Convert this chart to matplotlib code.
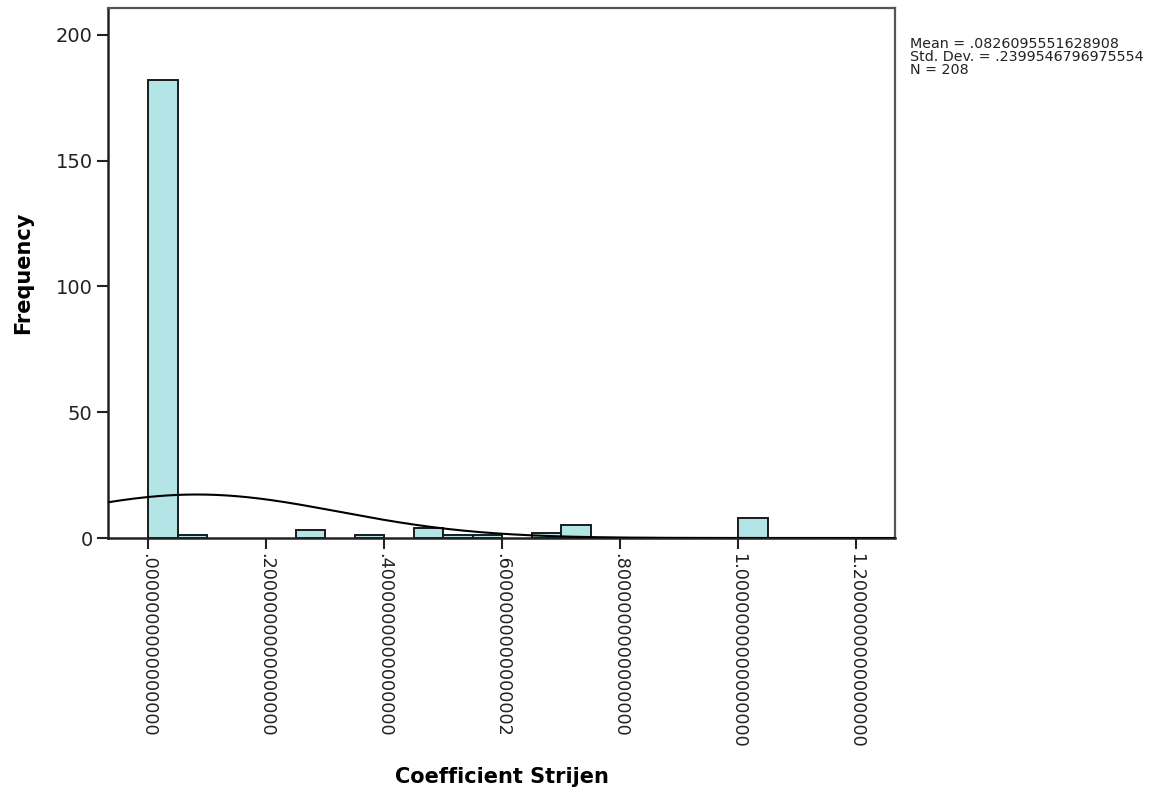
import numpy as np
import matplotlib
matplotlib.use("Agg")
import matplotlib.pyplot as plt

# Histogram of the strip coefficient (bins of width 0.05)
bin_starts = [0.00, 0.05, 0.25, 0.35, 0.45, 0.50, 0.55, 0.65, 0.70, 1.00]
counts = [182, 1, 3, 1, 4, 1, 1, 2, 5, 8]
bin_width = 0.05

mean_val = 0.0826095551628908
std_val = 0.2399546796975554
n_obs = 208

x_ticks = [0.0, 0.2, 0.4, 0.6, 0.8, 1.0, 1.2]
x_tick_labels = [".0000000000000000", ".2000000000000000", ".4000000000000000",
                 ".6000000000000002", ".8000000000000000", "1.0000000000000000",
                 "1.2000000000000000"]
y_ticks = [0, 50, 100, 150, 200]

plt.rcParams["font.family"] = ["DejaVu Sans"]

fig = plt.figure(figsize=(11.75, 7.93), dpi=100)
ax = fig.add_axes([108 / 1175, 255 / 793, 787 / 1175, 530 / 793])

ax.bar(bin_starts, counts, width=bin_width, align="edge",
       color="#b3e4e6", edgecolor="#1a1a1a", linewidth=1.4, zorder=2)

xmin, xmax = -0.068, 1.266
ax.set_xlim(xmin, xmax)
ax.set_ylim(0, 210.7)

# Normal curve scaled to the histogram
xs = np.linspace(xmin, xmax, 400)
ys = n_obs * bin_width / (std_val * np.sqrt(2 * np.pi)) * np.exp(-0.5 * ((xs - mean_val) / std_val) ** 2)
ax.plot(xs, ys, color="black", linewidth=1.5, zorder=3)

ax.set_xticks(x_ticks)
ax.set_xticklabels(x_tick_labels, rotation=270, fontsize=12.7, color="#222222")
ax.set_yticks(y_ticks)
ax.set_yticklabels([str(v) for v in y_ticks], fontsize=14, color="#222222")
ax.tick_params(axis="both", direction="out", length=8, width=1.5, color="#222222", pad=3)

for side in ["left", "bottom"]:
    ax.spines[side].set_color("#222222")
    ax.spines[side].set_linewidth(1.8)
for side in ["top", "right"]:
    ax.spines[side].set_color("#555555")
    ax.spines[side].set_linewidth(1.6)

ax.set_xlabel("Coefficient Strijen", fontsize=15, fontweight="bold", labelpad=14)
ax.set_ylabel("Frequency", fontsize=15, fontweight="bold", labelpad=16)

fig.text(910 / 1175, 1 - 37 / 793,
         "Mean = .0826095551628908\nStd. Dev. = .2399546796975554\nN = 208",
         fontsize=10.3, va="top", ha="left", linespacing=0.9, color="#222222")

fig.savefig("out.png", dpi=100)
